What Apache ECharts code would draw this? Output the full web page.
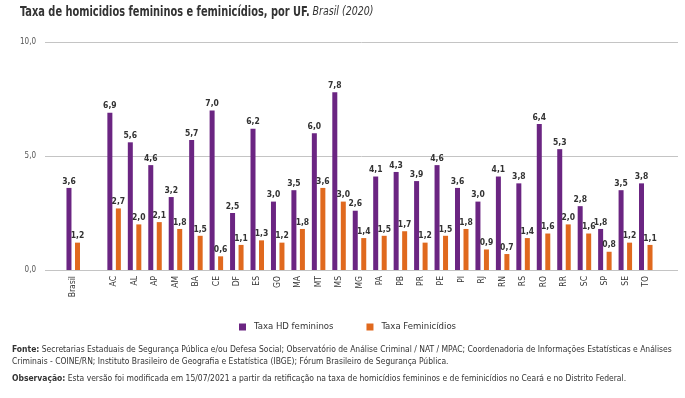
<!DOCTYPE html>
<html>
<head>
<meta charset="utf-8">
<script src="https://cdn.jsdelivr.net/npm/echarts@6/dist/echarts.min.js"></script>
<style>
  html, body { margin: 0; padding: 0; background: #fff; }
  #chart { width: 685px; height: 398px; }
</style>
</head>
<body>
<div id="chart"></div>
<script>
// categorias (a vazia separa Brasil das UFs)
const ufs = ['Brasil', '', 'AC', 'AL', 'AP', 'AM', 'BA', 'CE', 'DF', 'ES', 'GO', 'MA', 'MT', 'MS', 'MG',
  'PA', 'PB', 'PR', 'PE', 'PI', 'RJ', 'RN', 'RS', 'RO', 'RR', 'SC', 'SP', 'SE', 'TO'];
const taxaHD = [3.6, null, 6.9, 5.6, 4.6, 3.2, 5.7, 7.0, 2.5, 6.2, 3.0, 3.5, 6.0, 7.8, 2.6,
  4.1, 4.3, 3.9, 4.6, 3.6, 3.0, 4.1, 3.8, 6.4, 5.3, 2.8, 1.8, 3.5, 3.8];
const taxaFem = [1.2, null, 2.7, 2.0, 2.1, 1.8, 1.5, 0.6, 1.1, 1.3, 1.2, 1.8, 3.6, 3.0, 1.4,
  1.5, 1.7, 1.2, 1.5, 1.8, 0.9, 0.7, 1.4, 1.6, 2.0, 1.6, 0.8, 1.2, 1.1];
const yTicks = [0, 5, 10];

const roxo = '#6b2582';
const laranja = '#e0691e';
const fonte = '"Liberation Sans Narrow", "DejaVu Sans Condensed", "Liberation Sans", sans-serif';

const virgula = v => v.toFixed(1).replace('.', ',');

const chart = echarts.init(document.getElementById('chart'));

const labelTop = {
  show: true,
  position: 'top',
  distance: 2,
  fontFamily: fonte,
  fontSize: 8.5,
  fontWeight: 'bold',
  color: '#333',
  formatter: p => p.value == null ? '' : virgula(p.value)
};

// texto do rodapé, comprimido na horizontal como no original
const rodape = (y, txt) => ({
  type: 'text',
  x: 12,
  y: y,
  scaleX: 0.94,
  style: {
    text: txt,
    font: '9px ' + fonte,
    fill: '#333',
    lineHeight: 12.5,
    rich: {
      b: { fontWeight: 'bold', fontFamily: fonte, fontSize: 9, fill: '#333' }
    }
  }
});

chart.setOption({
  animation: false,
  textStyle: { fontFamily: fonte },
  legend: {
    top: 317,
    left: 234,
    itemWidth: 7,
    itemHeight: 7,
    itemGap: 33,
    icon: 'rect',
    textStyle: { fontFamily: fonte, fontSize: 9.5, color: '#333', padding: [0, 0, 0, 3] },
    data: ['Taxa HD femininos', 'Taxa Feminicídios']
  },
  grid: [
    { left: 45, right: 7, top: 42, bottom: 128 },
    { left: 63, right: 29, top: 42, bottom: 128 }
  ],
  xAxis: [
    { gridIndex: 0, type: 'category', data: [''], show: false },
    {
      gridIndex: 1,
      type: 'category',
      data: ufs,
      axisLine: { show: false },
      axisTick: { show: false },
      axisLabel: {
        rotate: 90,
        interval: 0,
        margin: 6,
        fontFamily: fonte,
        fontSize: 8.5,
        color: '#333'
      }
    }
  ],
  yAxis: [
    {
      gridIndex: 0,
      type: 'value',
      min: yTicks[0],
      max: yTicks[yTicks.length - 1],
      interval: yTicks[1] - yTicks[0],
      axisLine: { show: false },
      axisTick: { show: false },
      axisLabel: {
        margin: 9,
        fontFamily: fonte,
        fontSize: 8,
        color: '#555',
        formatter: v => virgula(v)
      },
      splitLine: { lineStyle: { color: '#c4c4c4', width: 1 } }
    },
    {
      gridIndex: 1,
      type: 'value',
      min: yTicks[0],
      max: yTicks[yTicks.length - 1],
      show: false
    }
  ],
  series: [
    {
      name: 'Taxa HD femininos',
      type: 'bar',
      xAxisIndex: 1,
      yAxisIndex: 1,
      data: taxaHD,
      barWidth: 5,
      barGap: '70%',
      itemStyle: { color: roxo },
      label: labelTop
    },
    {
      name: 'Taxa Feminicídios',
      type: 'bar',
      xAxisIndex: 1,
      yAxisIndex: 1,
      data: taxaFem,
      barWidth: 5,
      itemStyle: { color: laranja },
      label: labelTop
    }
  ],
  graphic: [
    {
      type: 'text',
      x: 20,
      y: 5,
      scaleX: 0.81,
      style: {
        text: '{b|Taxa de homicidios femininos e feminicídios, por UF.} {i|Brasil (2020)}',
        rich: {
          b: { fontFamily: fonte, fontSize: 13.5, fontWeight: 'bold', fill: '#333' },
          i: { fontFamily: fonte, fontSize: 13, fontStyle: 'italic', fill: '#333' }
        }
      }
    },
    rodape(343, '{b|Fonte:} Secretarias Estaduais de Segurança Pública e/ou Defesa Social; Observatório de Análise Criminal / NAT / MPAC; Coordenadoria de Informações Estatísticas e Análises\nCriminais - COINE/RN; Instituto Brasileiro de Geografia e Estatística (IBGE); Fórum Brasileiro de Segurança Pública.'),
    rodape(372, '{b|Observação:} Esta versão foi modificada em 15/07/2021 a partir da retificação na taxa de homicídios femininos e de feminicídios no Ceará e no Distrito Federal.')
  ]
});
</script>
</body>
</html>
